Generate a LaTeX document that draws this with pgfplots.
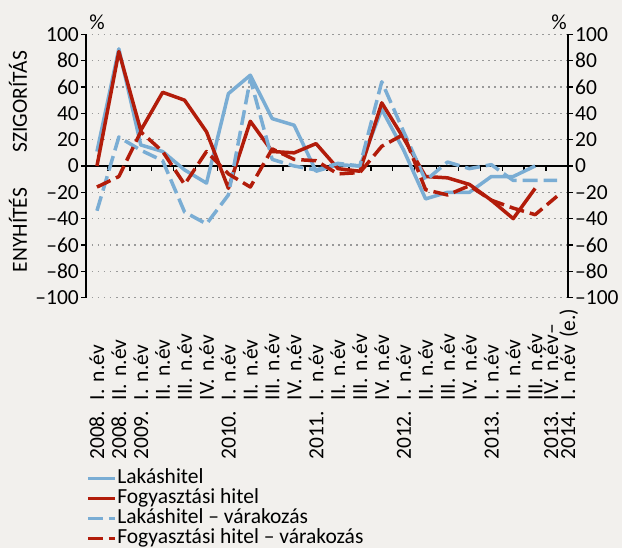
\documentclass[border=0pt]{standalone}
\usepackage{pgfplots}
\pgfplotsset{compat=1.18}
\usepackage{fontspec}
\setmainfont{Carlito}
\definecolor{bg}{RGB}{242,240,237}
\definecolor{lblue}{RGB}{122,173,212}
\definecolor{dred}{RGB}{178,28,10}
\begin{document}
\fontsize{21.5pt}{25pt}\selectfont
\begin{tikzpicture}
\fill[bg] (0pt,0pt) rectangle (622pt,548pt);
\pgfplotsset{
  myaxis/.style={
    at={(86pt,250.4pt)}, anchor=south west, scale only axis,
    width=482pt, height=263.2pt,
    xmin=0, xmax=22, ymin=-100, ymax=100,
    ytick={-100,-80,-60,-40,-20,0,20,40,60,80,100},
    yticklabels={–100,–80,–60,–40,–20,0,20,40,60,80,100},
    tick align=outside, major tick length=5pt,
    y tick style={black, line width=1.5pt},
    axis line style={black, line width=2pt},
    yticklabel style={font=\fontsize{21.5pt}{25pt}\selectfont, inner sep=2pt},
  }
}
\begin{axis}[myaxis,
  axis y line*=left, axis x line*=bottom, x axis line style={draw=none},
  xtick={0.5,1.5,2.5,3.5,4.5,5.5,6.5,7.5,8.5,9.5,10.5,11.5,12.5,13.5,14.5,15.5,16.5,17.5,18.5,19.5,20.5,21.5},
  xticklabels={
    2008. I. n.év,
    2008. II. n.év,
    2009. I. n.év,
    \phantom{2009. }II. n.év,
    \phantom{2009. }III. n.év,
    \phantom{2009. }IV. n.év,
    2010. I. n.év,
    \phantom{2010. }II. n.év,
    \phantom{2010. }III. n.év,
    \phantom{2010. }IV. n.év,
    2011. I. n.év,
    \phantom{2011. }II. n.év,
    \phantom{2011. }III. n.év,
    \phantom{2011. }IV. n.év,
    2012. I. n.év,
    \phantom{2012. }II. n.év,
    \phantom{2012. }III. n.év,
    \phantom{2012. }IV. n.év,
    2013. I. n.év,
    \phantom{2013. }II. n.év,
    \phantom{2013. }III. n.év,
    {\rule{0pt}{22pt}2013. IV. n.év–\\2014. I. n.év (e.)}
  },
  x tick style={draw=none}, major x tick style={draw=none},
  xticklabel style={rotate=90, anchor=east, text width=157pt, align=left, inner sep=0pt,
    font=\fontsize{21.5pt}{14pt}\selectfont},
  ymajorgrids,
  grid style={gray!80, dash pattern=on 1.5pt off 4.5pt, line width=1.2pt},
  legend style={at={(0,-0.648)}, anchor=north west, draw=none, fill=none,
    inner sep=0pt, row sep=0pt, font=\fontsize{21.5pt}{20pt}\selectfont,
    nodes={inner xsep=0.6pt, inner ysep=0pt, text height=15pt, text depth=5pt, anchor=west}},
  legend cell align=left,
  legend image code/.code={\draw[#1] (0pt,0pt) -- (27pt,0pt);},
]
\draw[black, line width=2pt] (axis cs:0,0) -- (axis cs:22,0);
\pgfplotsinvokeforeach{1,...,21}{\draw[black, line width=1.5pt] (axis cs:#1,0) -- ++(0pt,-5pt);}
\addplot[lblue, line width=3.5pt, line join=round] coordinates {
 (0.5,11) (1.5,89) (2.5,16) (3.5,11) (4.5,-3) (5.5,-13) (6.5,55) (7.5,69) (8.5,36) (9.5,31)
 (10.5,-4) (11.5,1) (12.5,0) (13.5,43) (14.5,12) (15.5,-25) (16.5,-20) (17.5,-20) (18.5,-8) (19.5,-8) (20.5,0)};
\addlegendentry{Lakáshitel}
\addplot[dred, line width=3.5pt, line join=round] coordinates {
 (0.5,0) (1.5,87) (2.5,27) (3.5,56) (4.5,50) (5.5,26) (6.5,-17) (7.5,34) (8.5,11) (9.5,10)
 (10.5,17) (11.5,-2) (12.5,-4) (13.5,48) (14.5,21) (15.5,-8) (16.5,-9) (17.5,-14) (18.5,-26) (19.5,-40) (20.5,-17)};
\addlegendentry{Fogyasztási hitel}
\addplot[lblue, line width=3.5pt, line join=round, dash pattern=on 15pt off 6pt] coordinates {
 (0.5,-34) (1.5,22) (2.5,12) (3.5,4) (4.5,-35) (5.5,-44) (6.5,-22) (7.5,66) (8.5,5) (9.5,0)
 (10.5,-3) (11.5,2) (12.5,0) (13.5,64) (14.5,26) (15.5,-11) (16.5,3) (17.5,-2) (18.5,1) (19.5,-11) (20.5,-11) (21.5,-11)};
\addlegendentry{Lakáshitel – várakozás}
\addplot[dred, line width=3.5pt, line join=round, dash pattern=on 15pt off 6pt] coordinates {
 (0.5,-16) (1.5,-8) (2.5,26) (3.5,11) (4.5,-14) (5.5,11) (6.5,-6) (7.5,-16) (8.5,13) (9.5,5)
 (10.5,4) (11.5,-6) (12.5,-5) (13.5,15) (14.5,24) (15.5,-18) (16.5,-22) (17.5,-15) (18.5,-26) (19.5,-32) (20.5,-37) (21.5,-23)};
\addlegendentry{Fogyasztási hitel – várakozás}
\end{axis}
\begin{axis}[myaxis, axis y line*=right, axis x line=none]
\end{axis}
\node at (97pt,526pt) {\%};
\node at (559pt,526pt) {\%};
\node[rotate=90] at (18pt,446.3pt) {SZIGORÍTÁS};
\node[rotate=90] at (18pt,318pt) {ENYHÍTÉS};
\pgfresetboundingbox
\useasboundingbox (0pt,0pt) rectangle (622pt,548pt);
\end{tikzpicture}
\end{document}
